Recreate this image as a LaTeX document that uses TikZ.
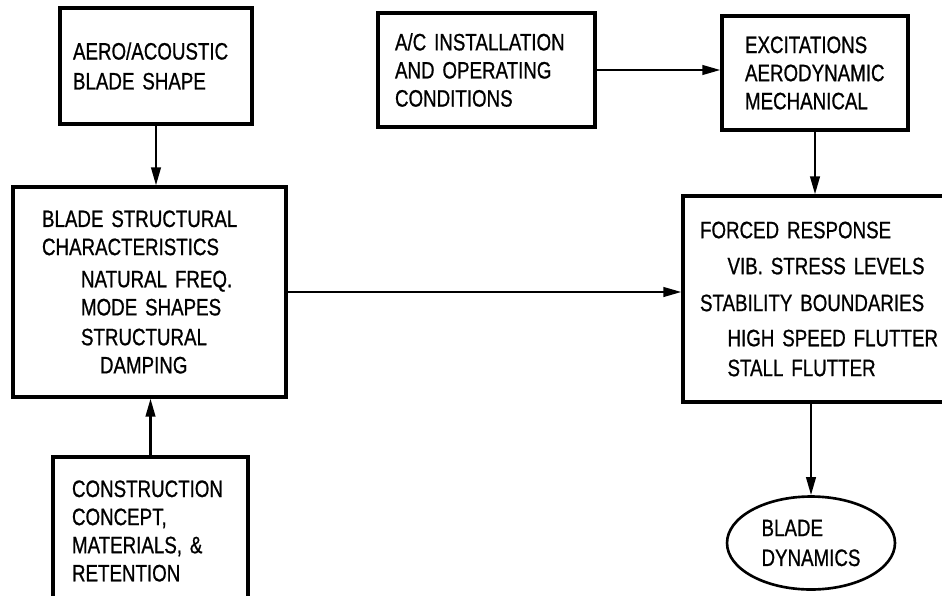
\documentclass[tikz,border=0pt]{standalone}
\usepackage{fontspec}
\setmainfont[FakeStretch=0.79,FakeBold=0.8]{Liberation Sans}
\usepackage{xcolor,tikz}
\usetikzlibrary{arrows.meta,shapes.geometric}
\tikzset{>={Triangle[length=3.6mm,width=1.9mm]},
 every node/.style={font=\fontsize{13.5}{16}\selectfont}}
\begin{document}
\begin{tikzpicture}[x=0.02cm,y=-0.02cm,
 bbox/.style={draw,line width=1.8pt,inner ysep=0pt,align=left},
 bflow/.style={->,line width=1.4pt}]
% Page frame in the pixel coordinates of the sheet.
\useasboundingbox (0,0) rectangle (942,595);
% Left column: shape, structure, construction.
\node[bbox,minimum width=3.84cm,minimum height=2.32cm,text width=3.32cm]
 (aero) at (156,66) {AERO/ACOUSTIC\\[1pt]BLADE SHAPE};
\node[bbox,minimum width=5.46cm,minimum height=4.2cm,text width=4.30cm]
 (blade) at (149.5,292)
 {BLADE STRUCTURAL\\CHARACTERISTICS\\[2.3pt]
  \hspace*{0.78cm}NATURAL FREQ.\\\hspace*{0.78cm}MODE SHAPES\\[1pt]
  \hspace*{0.78cm}STRUCTURAL\\\hspace*{1.16cm}DAMPING};
\node[bbox,minimum width=3.9cm,minimum height=2.96cm,text width=3.14cm]
 (constr) at (150.5,531)
 {CONSTRUCTION\\CONCEPT,\\MATERIALS, \&\\RETENTION};
% Top row: operating conditions feed the excitations.
\node[bbox,minimum width=4.34cm,minimum height=2.28cm,text width=3.66cm]
 (ac) at (486.5,70) {A/C INSTALLATION\\AND OPERATING\\CONDITIONS};
\node[bbox,minimum width=3.72cm,minimum height=2.28cm,text width=2.80cm]
 (exc) at (815,73) {EXCITATIONS\\AERODYNAMIC\\MECHANICAL};
% Right column: response (cut by the sheet edge) and the final result.
\node[bbox,minimum width=5.54cm,minimum height=4.12cm,text width=4.86cm]
 (forced) at (821.5,299)
 {FORCED RESPONSE\\[4.5pt]\hspace*{0.55cm}\mbox{VIB. STRESS LEVELS}\\[5pt]
  \mbox{STABILITY BOUNDARIES}\\[4pt]\hspace*{0.55cm}\mbox{HIGH SPEED FLUTTER}\\[1pt]
  \hspace*{0.55cm}STALL FLUTTER};
\node[ellipse,draw,line width=1.5pt,inner sep=0pt,align=left,
 minimum width=3.36cm,minimum height=1.86cm] (bd) at (811,543)
 {BLADE\\[1pt]DYNAMICS};
\draw[bflow] (aero.south) -- (aero.south |- blade.north);
\draw[bflow] (constr.north) -- (constr.north |- blade.south);
\draw[bflow] (blade.east) -- (blade.east -| forced.west);
\draw[bflow] (ac.east) -- (ac.east -| exc.west);
\draw[bflow] (exc.south) -- (exc.south |- forced.north);
\draw[bflow] (forced.south -| bd.north) -- (bd.north);
\end{tikzpicture}
\end{document}
